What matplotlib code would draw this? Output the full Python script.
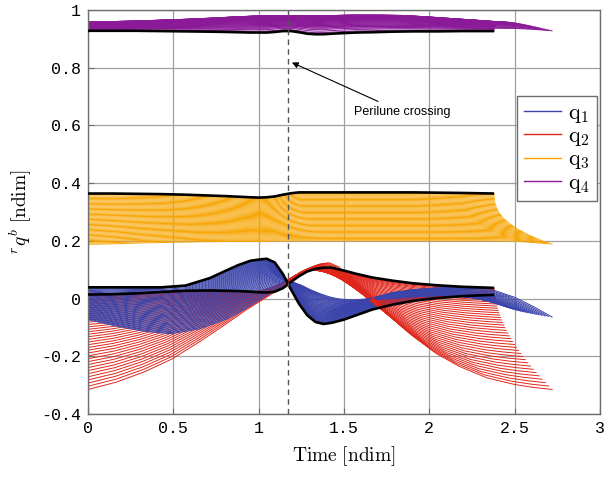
"""Quaternion components r_q^b of a family of orbits vs time, reference orbit in black."""
import numpy as np
import matplotlib
matplotlib.use("Agg")
import matplotlib.pyplot as plt

# ── data ────────────────────────────────────────────────────────────────────
# normalised time (fraction of one period) at which every curve was sampled
TAU = [0, .06, .12, .18, .24, .30, .34, .37, .40, .42, .44, .46, .48, .50,
       .52, .54, .56, .58, .60, .63, .66, .70, .75, .80, .86, .92, .96, 1.0]

T_REF = 2.38     # period of the reference (black) orbit
T_LAST = 2.72    # period of the last family member
N_MEMBERS = 42
PERILUNE_T = 1.17

# reference orbit (black)
Q1_REF = [0.039, 0.039, 0.039, 0.039, 0.045, 0.071, 0.097, 0.116, 0.131, 0.135,
          0.138, 0.125, 0.085, 0.031, -0.019, -0.058, -0.081, -0.088, -0.084,
          -0.073, -0.058, -0.038, -0.021, -0.008, 0.002, 0.008, 0.011, 0.013]
Q2_REF = [0.014, 0.015, 0.018, 0.023, 0.027, 0.028, 0.027, 0.026, 0.024, 0.022,
          0.021, 0.024, 0.036, 0.058, 0.078, 0.094, 0.103, 0.107, 0.107, 0.097,
          0.086, 0.073, 0.062, 0.053, 0.046, 0.041, 0.039, 0.037]
Q3_REF = [0.364, 0.364, 0.363, 0.362, 0.360, 0.357, 0.355, 0.353, 0.351, 0.350,
          0.351, 0.354, 0.360, 0.365, 0.368, 0.368, 0.368, 0.368, 0.368, 0.368,
          0.368, 0.368, 0.368, 0.368, 0.367, 0.366, 0.365, 0.364]
Q4_REF = [0.928, 0.928, 0.928, 0.927, 0.926, 0.925, 0.924, 0.923, 0.922, 0.922,
          0.922, 0.924, 0.927, 0.927, 0.923, 0.918, 0.916, 0.916, 0.918, 0.920,
          0.922, 0.923, 0.925, 0.926, 0.926, 0.927, 0.927, 0.927]

# last member of the family (longest period)
Q1_LAST = [-0.073, -0.095, -0.113, -0.122, -0.105, -0.070, -0.035, -0.005, 0.025,
           0.042, 0.050, 0.046, 0.030, 0.017, 0.006, -0.001, -0.004, -0.004,
           -0.001, 0.008, 0.022, 0.031, 0.037, 0.040, 0.037, 0.004, -0.028, -0.064]
Q2_LAST = [-0.315, -0.290, -0.255, -0.210, -0.150, -0.085, -0.040, -0.010, 0.020,
           0.040, 0.062, 0.085, 0.105, 0.120, 0.124, 0.110, 0.082, 0.055, 0.025,
           -0.022, -0.070, -0.130, -0.190, -0.235, -0.275, -0.298, -0.308, -0.315]
Q3_LAST = [0.188, 0.190, 0.193, 0.195, 0.197, 0.198, 0.198, 0.198, 0.199, 0.199,
           0.200, 0.200, 0.200, 0.200, 0.200, 0.200, 0.200, 0.200, 0.200, 0.200,
           0.200, 0.200, 0.200, 0.200, 0.200, 0.199, 0.194, 0.189]
Q4_LAST = [0.930, 0.933, 0.935, 0.936, 0.937, 0.938, 0.938, 0.938, 0.938, 0.938,
           0.938, 0.938, 0.938, 0.938, 0.938, 0.938, 0.938, 0.938, 0.938, 0.938,
           0.938, 0.938, 0.938, 0.938, 0.937, 0.936, 0.933, 0.928]
# q4 of the middle member (top of the purple band)
Q4_MID = [0.958, 0.960, 0.962, 0.965, 0.968, 0.972, 0.975, 0.977, 0.979, 0.980,
          0.980, 0.980, 0.980, 0.980, 0.980, 0.980, 0.980, 0.980, 0.981, 0.982,
          0.982, 0.982, 0.981, 0.977, 0.971, 0.965, 0.961, 0.958]

XTICKS = [0, 0.5, 1, 1.5, 2, 2.5, 3]
XTICKLABELS = ["0", "0.5", "1", "1.5", "2", "2.5", "3"]
YTICKS = [-0.4, -0.2, 0, 0.2, 0.4, 0.6, 0.8, 1]
YTICKLABELS = ["-0.4", "-0.2", "0", "0.2", "0.4", "0.6", "0.8", "1"]
LABELS = [r"$\mathrm{q}_1$", r"$\mathrm{q}_2$", r"$\mathrm{q}_3$", r"$\mathrm{q}_4$"]

# how the family spreads between reference and last member
PERIOD_EXP = 2.5
WEIGHT_EXP = [1.0, 1.4, 1.0, 1.0]

# ── style ───────────────────────────────────────────────────────────────────
BLUE = "#3A44AA"; RED = "#E0261B"; ORANGE = "#F7A400"; PURPLE = "#8A1A97"
GRID = "#A0A0A0"; SPINE = "#6E6E6E"

plt.rcParams.update({
    "mathtext.fontset": "cm",
    "axes.unicode_minus": False,
})


def main() -> None:
    fig = plt.figure(figsize=(6.13, 4.79), dpi=100)
    ax = fig.add_axes([0.1436, 0.1357, 0.835, 0.8434])

    tau = np.array(TAU)
    refs = [np.array(q) for q in (Q1_REF, Q2_REF, Q3_REF, Q4_REF)]
    lasts = [np.array(q) for q in (Q1_LAST, Q2_LAST, Q3_LAST, Q4_LAST)]
    mid4 = np.array(Q4_MID)
    colors = [BLUE, RED, ORANGE, PURPLE]

    for k in range(N_MEMBERS):
        s = k / (N_MEMBERS - 1)
        t = tau * (T_REF + (T_LAST - T_REF) * s ** PERIOD_EXP)
        for i in range(4):
            w = s ** WEIGHT_EXP[i]
            y = (1 - w) * refs[i] + w * lasts[i]
            if i == 3:
                y = y + 4 * s * (1 - s) * (mid4 - 0.5 * (refs[3] + lasts[3]))
            ax.plot(t, y, color=colors[i], lw=0.7, zorder=2)

    for ref in refs:
        ax.plot(tau * T_REF, ref, color="black", lw=1.9, zorder=4,
                solid_capstyle="butt")

    ax.axvline(PERILUNE_T, color="#555555", lw=1.0, ls=(0, (4, 3)), zorder=5)
    ax.annotate("Perilune crossing", xy=(1.195, 0.818), xytext=(1.56, 0.645),
                fontsize=9, family="Liberation Sans", va="center", ha="left",
                arrowprops=dict(arrowstyle="-|>", color="black", lw=0.8,
                                mutation_scale=9, shrinkA=4, shrinkB=0))

    handles = [plt.Line2D([], [], color=c, lw=1.0) for c in colors]
    leg = ax.legend(handles, LABELS, loc="upper right", bbox_to_anchor=(0.994, 0.787),
                    fontsize=16, frameon=True, fancybox=False, framealpha=1,
                    edgecolor=SPINE, handlelength=1.7, handletextpad=0.3,
                    labelspacing=0.06, borderpad=0.3, borderaxespad=0)
    leg.get_frame().set_linewidth(1.0)
    leg.set_zorder(10)

    ax.set_xlim(0, 3)
    ax.set_ylim(-0.4, 1)
    ax.set_xticks(XTICKS, XTICKLABELS)
    ax.set_yticks(YTICKS, YTICKLABELS)
    for lbl in ax.get_xticklabels() + ax.get_yticklabels():
        lbl.set_family("Liberation Mono")
        lbl.set_fontsize(12)
    ax.tick_params(direction="in", length=4, color=SPINE, pad=5)
    ax.grid(True, color=GRID, lw=0.9)
    ax.set_axisbelow(True)
    for sp in ax.spines.values():
        sp.set_color(SPINE)
        sp.set_linewidth(1.0)

    ax.set_xlabel(r"$\mathrm{Time\ [ndim]}$", fontsize=14, labelpad=6)
    ax.set_ylabel(r"$^{r}q^{b}\ \mathrm{[ndim]}$", fontsize=14, labelpad=5)

    fig.savefig("out.png", dpi=100)


if __name__ == "__main__":
    main()
